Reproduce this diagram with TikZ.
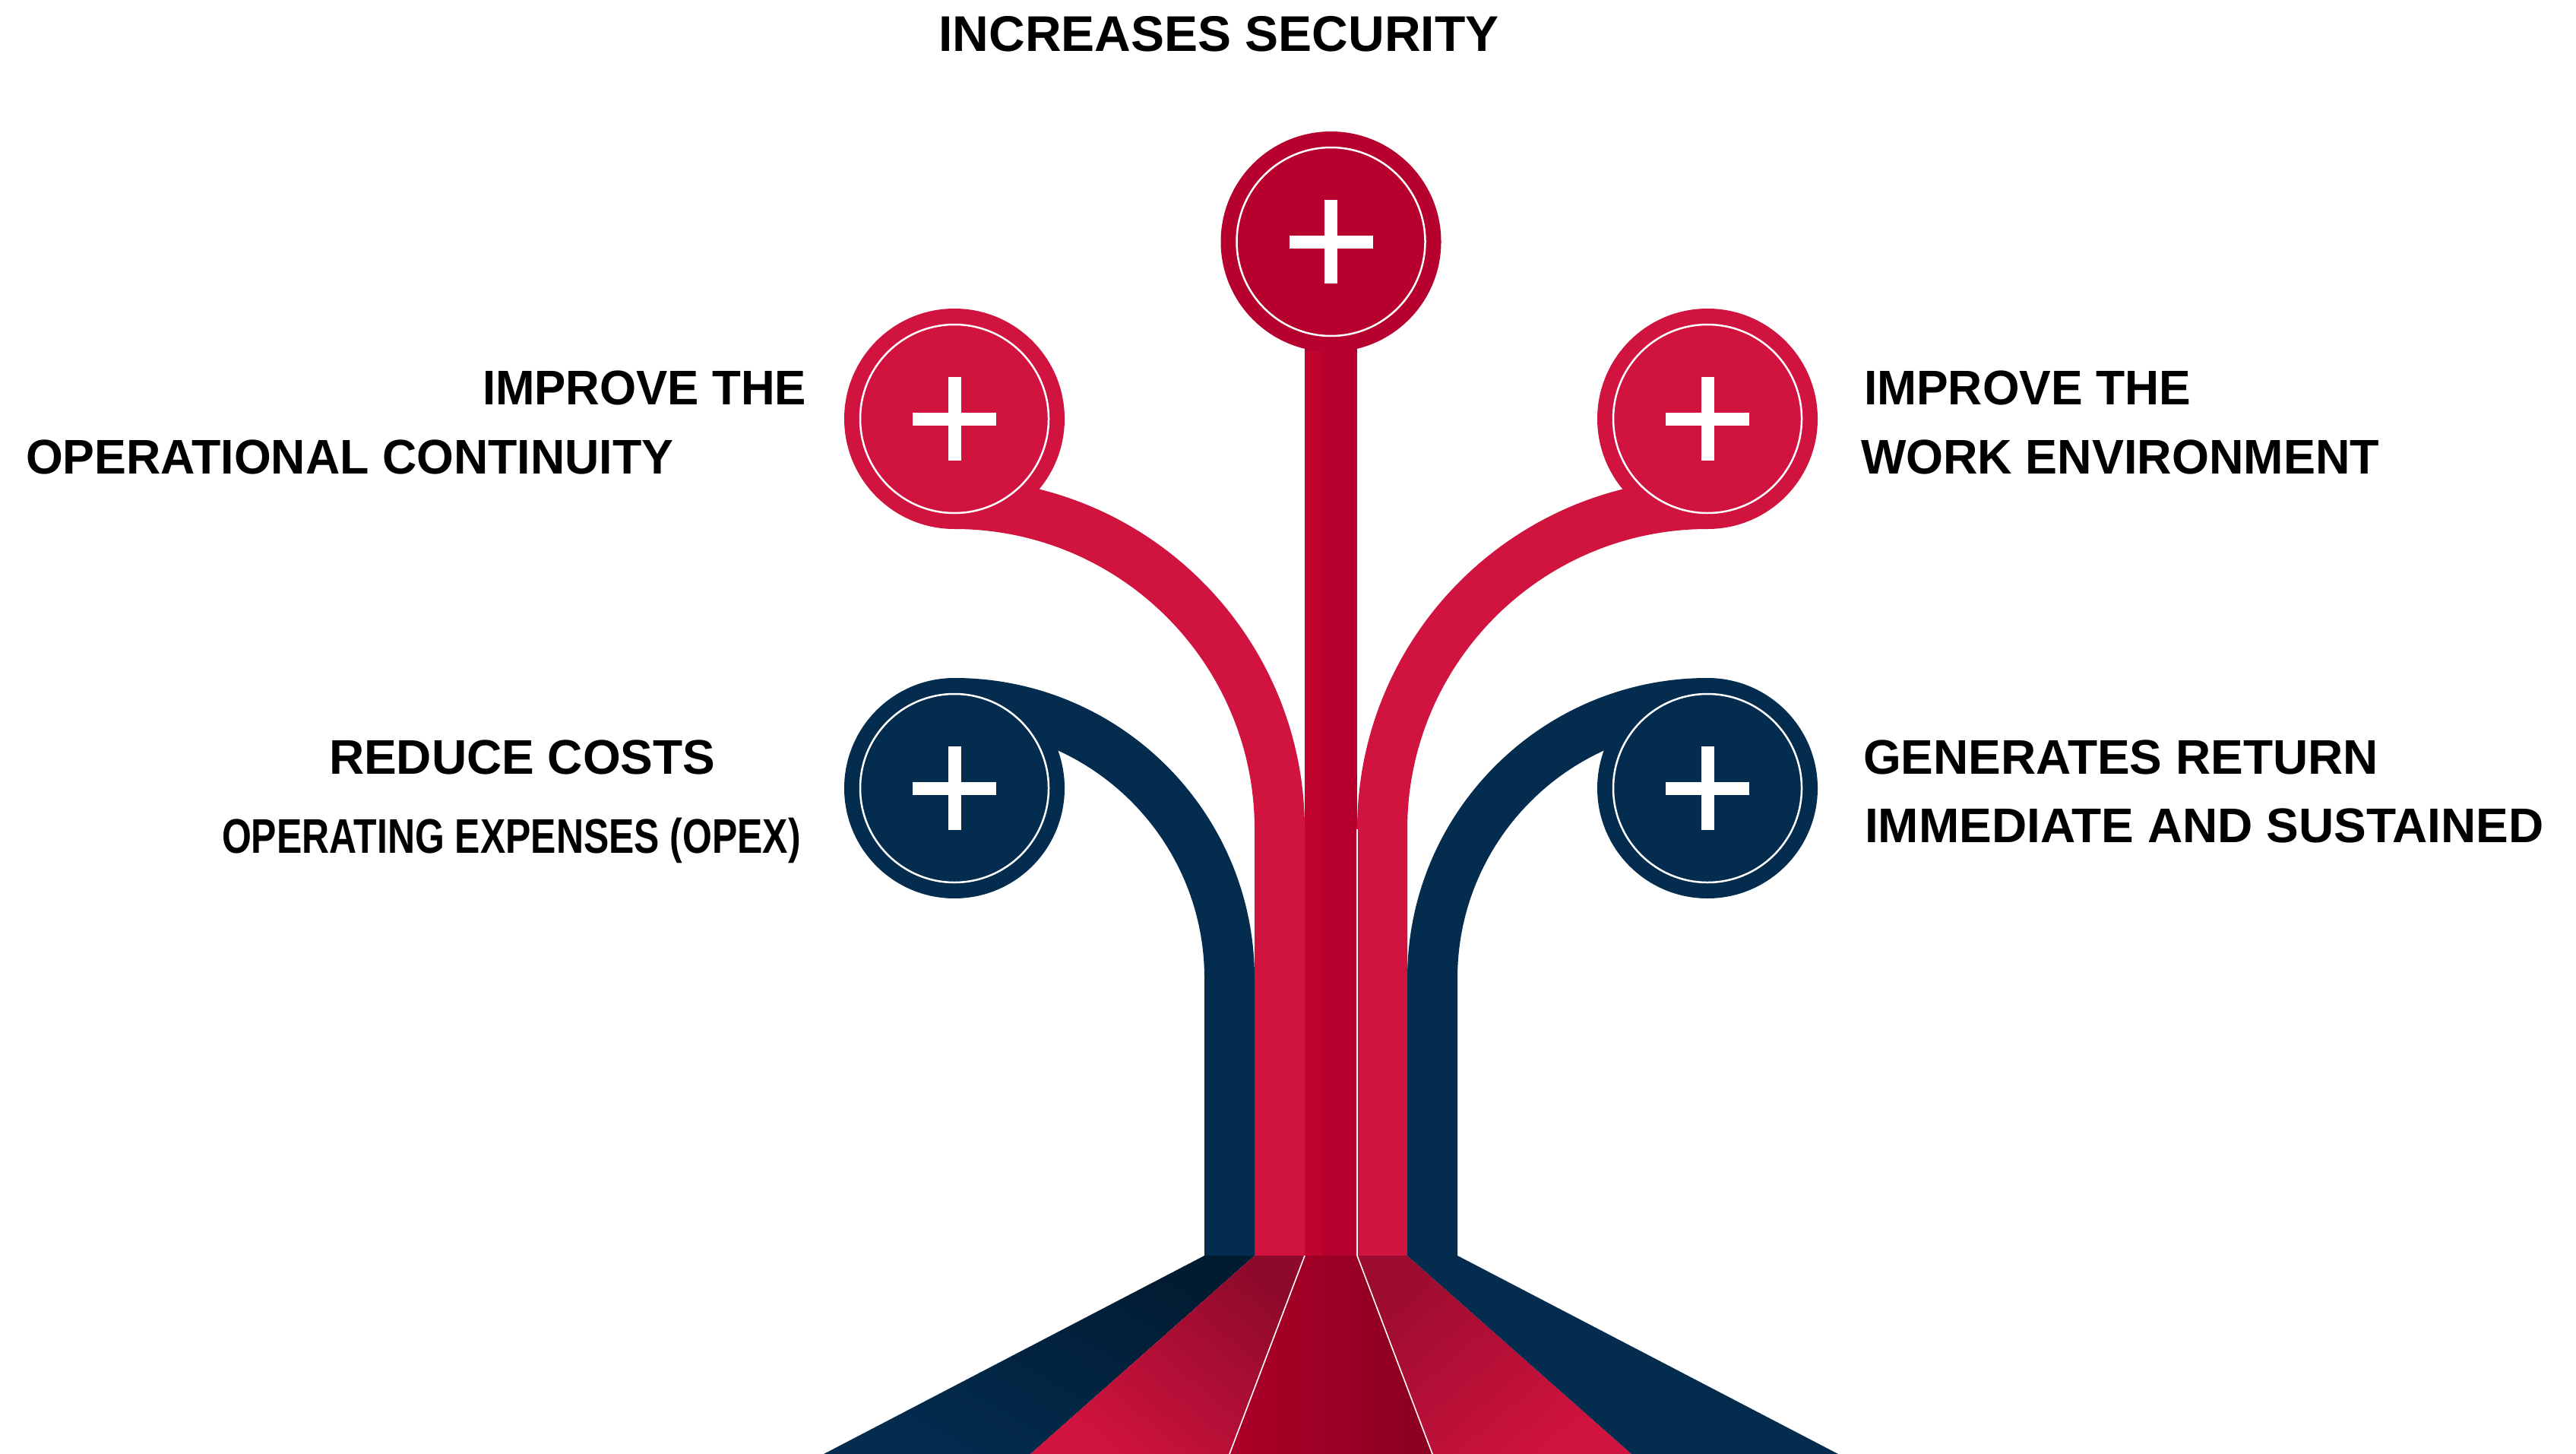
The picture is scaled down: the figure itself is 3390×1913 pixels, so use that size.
\documentclass[tikz,border=0pt]{standalone}
\usepackage{fontspec}
\setmainfont{Liberation Sans}
\usetikzlibrary{calc}
\definecolor{navy}{HTML}{032C4F}
\definecolor{navydk}{HTML}{011B31}
\definecolor{crim}{HTML}{D1133F}
\definecolor{crimdk}{HTML}{8E0A2A}
\definecolor{deep}{HTML}{B6002D}
\definecolor{deepl}{HTML}{C0032F}
\definecolor{fanmid}{HTML}{AC0028}
\definecolor{fanmiddk}{HTML}{8A001F}
\tikzset{
  badge/.style={circle, fill=#1, minimum size=290pt, inner sep=0pt, outer sep=0pt},
  ringline/.style={draw=white, line width=2.5pt},
  plusbar/.style={white, line width=17pt},
  seam/.style={white, line width=1.6pt},
  lbl/.style={inner sep=0pt, outer sep=0pt, text=black, font=\fontsize{64}{64}\selectfont\bfseries},
}
\newcommand{\plusmark}[1]{%
  \draw[plusbar] ($(#1.center)+(-55,0)$) -- ($(#1.center)+(55,0)$);
  \draw[plusbar] ($(#1.center)+(0,-55)$) -- ($(#1.center)+(0,55)$);
  \draw[ringline] (#1.center) circle[radius=124];}
\begin{document}
\begin{tikzpicture}[x=1pt,y=-1pt]
\useasboundingbox (0,0) rectangle (3390,1913);
\fill[white] (0,0) rectangle (3390,1913);

% ---- fan at the bottom
\shade[shading=axis, top color=navydk, bottom color=navy, shading angle=-30]
  (1585,1652) -- (1651,1652) -- (1356,1913) -- (1084,1913) -- cycle;
\shade[shading=axis, top color=crimdk, bottom color=crim, shading angle=-40]
  (1651,1652) -- (1717,1652) -- (1618,1913) -- (1356,1913) -- cycle;
\shade[left color=fanmid, right color=fanmiddk]
  (1717,1652) -- (1786,1652) -- (1885,1913) -- (1618,1913) -- cycle;
\shade[shading=axis, top color=crimdk!80!crim, bottom color=crim, shading angle=40]
  (1786,1652) -- (1852,1652) -- (2147,1913) -- (1885,1913) -- cycle;
\fill[navy]
  (1852,1652) -- (1918,1652) -- (2419,1913) -- (2147,1913) -- cycle;
\draw[seam] (1717,1652) -- (1618,1913);
\draw[seam] (1786,1652) -- (1885,1913);

% ---- badges
\node[badge=deep] (top) at (1751.5,318) {};
\node[badge=crim] (lu) at (1256,551) {};
\node[badge=crim] (ru) at (2247,551) {};
\node[badge=navy] (ll) at (1256,1037) {};
\node[badge=navy] (rl) at (2247,1037) {};

% ---- central stem
\fill[deep] (1717,440) rectangle (1786,1652);
\fill[deepl] (1717,462) rectangle (1740,1652);

% ---- red branches
\fill[crim] (lu.south) arc[start angle=270, end angle=360, radius=395]
  -- (1651,1652) -- (1717,1652) -- (1717,1091)
  arc[start angle=360, end angle=270, radius=461] -- cycle;
\fill[crim] (ru.south) arc[start angle=270, end angle=180, radius=395]
  -- (1852,1652) -- (1786,1652) -- (1786,1091)
  arc[start angle=180, end angle=270, radius=461] -- cycle;

% ---- navy branches
\fill[navy] (ll.north) arc[start angle=270, end angle=360, radius=395]
  -- (1651,1652) -- (1585,1652) -- (1585,1287)
  arc[start angle=360, end angle=270, radius=329] -- cycle;
\fill[navy] (rl.north) arc[start angle=270, end angle=180, radius=395]
  -- (1852,1652) -- (1918,1652) -- (1918,1287)
  arc[start angle=180, end angle=270, radius=329] -- cycle;

\draw[seam] (1786,1091) -- (1786,1652);

% ---- plus marks and rings
\plusmark{top}
\plusmark{lu}
\plusmark{ru}
\plusmark{ll}
\plusmark{rl}

% ---- labels
\node[lbl, font=\fontsize{66}{66}\selectfont\bfseries, anchor=base] (tsec) at (1604,68) {INCREASES SECURITY};
\node[lbl, anchor=base east] (tl1) at (1061,532) {\scalebox{0.966}[1]{IMPROVE THE}};
\node[lbl, anchor=base west] (tl2) at (34,623) {\scalebox{0.98}[1]{OPERATIONAL CONTINUITY}};
\node[lbl, anchor=base west] (tr1) at (2453,532) {\scalebox{0.975}[1]{IMPROVE THE}};
\node[lbl, anchor=base west] (tr2) at (2449,623) {\scalebox{0.984}[1]{WORK ENVIRONMENT}};
\node[lbl, anchor=base west] (tc1) at (433,1018) {REDUCE COSTS};
\node[lbl, anchor=base west] (tc2) at (292,1122) {\scalebox{0.78}[1]{OPERATING EXPENSES (OPEX)}};
\node[lbl, anchor=base west] (tg1) at (2452,1018) {GENERATES RETURN};
\node[lbl, anchor=base west] (tg2) at (2454,1108) {IMMEDIATE AND SUSTAINED};
\end{tikzpicture}
\end{document}
